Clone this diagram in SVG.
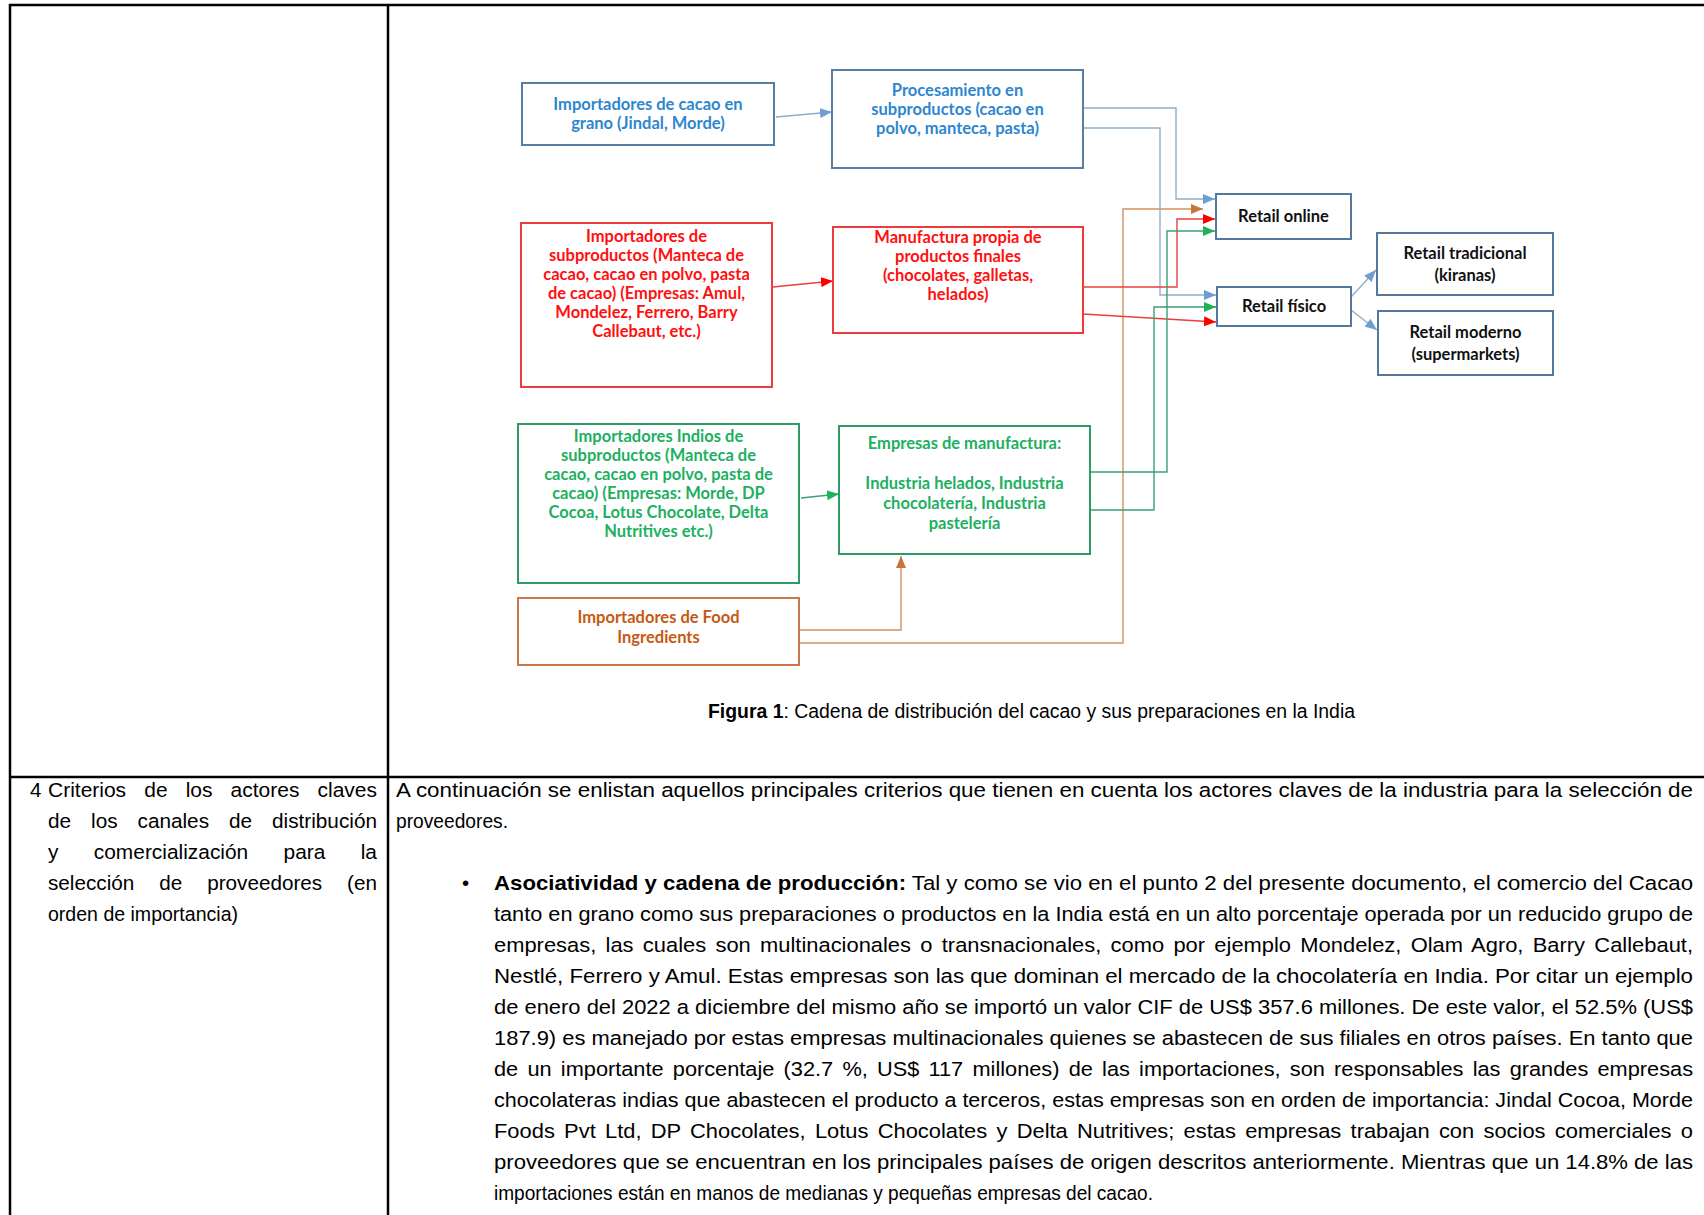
<svg xmlns="http://www.w3.org/2000/svg" width="1704" height="1215" viewBox="0 0 1704 1215">
<defs>
<style>
.tbl{stroke:#000;stroke-width:2.5;fill:none}
.body{font-family:"Liberation Sans",Arial,sans-serif;font-size:20.5px;fill:#000}
.cap{font-family:"Liberation Sans",Arial,sans-serif;font-size:20px;fill:#000}
.box{fill:#fff;stroke-width:2}
.lbl{font-family:Lato,"Open Sans",sans-serif;font-weight:700;font-size:16.5px;text-anchor:middle}
.blue .box{stroke:#5A7DA2}.blue .lbl{fill:#2E86CF}
.red .box{stroke:#EE3B3B}.red .lbl{fill:#FF1010}
.green .box{stroke:#2F9A66}.green .lbl{fill:#1DB060}
.orange .box{stroke:#C97A4A}.orange .lbl{fill:#C55A11}
.retail .box{stroke:#55799E}.retail .lbl{fill:#111}
.cn{fill:none;stroke-width:1.4}
.cb{stroke:#8FAECB;marker-end:url(#aB)}
.cr{stroke:#E8403C;marker-end:url(#aR)}
.cg{stroke:#3B9E76;marker-end:url(#aG)}
.co{stroke:#D4905E;marker-end:url(#aO)}
</style>
<marker id="aB" markerUnits="userSpaceOnUse" markerWidth="12" markerHeight="10" refX="12" refY="5" orient="auto" viewBox="0 0 12 10"><path d="M0,0 L12,5 L0,10 z" fill="#6F9FD2"/></marker>
<marker id="aR" markerUnits="userSpaceOnUse" markerWidth="12" markerHeight="10" refX="12" refY="5" orient="auto" viewBox="0 0 12 10"><path d="M0,0 L12,5 L0,10 z" fill="#FF0000"/></marker>
<marker id="aG" markerUnits="userSpaceOnUse" markerWidth="12" markerHeight="10" refX="12" refY="5" orient="auto" viewBox="0 0 12 10"><path d="M0,0 L12,5 L0,10 z" fill="#1DB35A"/></marker>
<marker id="aO" markerUnits="userSpaceOnUse" markerWidth="12" markerHeight="10" refX="12" refY="5" orient="auto" viewBox="0 0 12 10"><path d="M0,0 L12,5 L0,10 z" fill="#C8743A"/></marker>
</defs>
<rect width="1704" height="1215" fill="#fff"/>

<g id="table">
<path class="tbl" d="M9,5 H1704 M10,4 V1215 M388,4 V1215 M10,777 H1704"/>
</g>

<g id="connectors">
<path class="cn cb" d="M776,117 L832,112"/>
<path class="cn cr" d="M773,287 L833,281"/>
<path class="cn cg" d="M801,498 L839,494"/>
<path class="cn co" d="M799,630 H901 V556"/>
<path class="cn co" d="M799,643 H1123 V209 H1203"/>
<path class="cn cb" d="M1083,108 H1176 V199 H1215"/>
<path class="cn cb" d="M1083,128 H1160 V295 H1216"/>
<path class="cn cr" d="M1083,287 H1177 V219 H1215"/>
<path class="cn cr" d="M1083,314 L1216,322"/>
<path class="cn cg" d="M1090,472 H1167 V231 H1215"/>
<path class="cn cg" d="M1090,510 H1154 V307 H1216"/>
<path class="cn cb" d="M1351,297 L1376,270"/>
<path class="cn cb" d="M1351,310 L1377,330"/>
</g>

<g id="n-import-grano" class="blue">
<rect class="box" x="522" y="83" width="252" height="62"/>
<text class="lbl" x="648" y="110">Importadores de cacao en</text>
<text class="lbl" x="648" y="129">grano (Jindal, Morde)</text>
</g>
<g id="n-procesamiento" class="blue">
<rect class="box" x="832" y="70" width="251" height="98"/>
<text class="lbl" x="957.5" y="96">Procesamiento en</text>
<text class="lbl" x="957.5" y="115">subproductos (cacao en</text>
<text class="lbl" x="957.5" y="134">polvo, manteca, pasta)</text>
</g>
<g id="n-import-sub" class="red">
<rect class="box" x="521" y="223" width="251" height="164"/>
<text class="lbl" x="646.5" y="242">Importadores de</text>
<text class="lbl" x="646.5" y="261">subproductos (Manteca de</text>
<text class="lbl" x="646.5" y="280">cacao, cacao en polvo, pasta</text>
<text class="lbl" x="646.5" y="299">de cacao) (Empresas: Amul,</text>
<text class="lbl" x="646.5" y="318">Mondelez, Ferrero, Barry</text>
<text class="lbl" x="646.5" y="337">Callebaut, etc.)</text>
</g>
<g id="n-manufactura-propia" class="red">
<rect class="box" x="833" y="227" width="250" height="106"/>
<text class="lbl" x="958" y="243">Manufactura propia de</text>
<text class="lbl" x="958" y="262">productos finales</text>
<text class="lbl" x="958" y="281">(chocolates, galletas,</text>
<text class="lbl" x="958" y="300">helados)</text>
</g>
<g id="n-import-indios" class="green">
<rect class="box" x="518" y="424" width="281" height="159"/>
<text class="lbl" x="658.5" y="442">Importadores Indios de</text>
<text class="lbl" x="658.5" y="461">subproductos (Manteca de</text>
<text class="lbl" x="658.5" y="480">cacao, cacao en polvo, pasta de</text>
<text class="lbl" x="658.5" y="499">cacao) (Empresas: Morde, DP</text>
<text class="lbl" x="658.5" y="518">Cocoa, Lotus Chocolate, Delta</text>
<text class="lbl" x="658.5" y="537">Nutritives etc.)</text>
</g>
<g id="n-empresas-manufactura" class="green">
<rect class="box" x="839" y="426" width="251" height="128"/>
<text class="lbl" x="964.5" y="449">Empresas de manufactura:</text>
<text class="lbl" x="964.5" y="489">Industria helados, Industria</text>
<text class="lbl" x="964.5" y="509">chocolatería, Industria</text>
<text class="lbl" x="964.5" y="529">pastelería</text>
</g>
<g id="n-food-ingredients" class="orange">
<rect class="box" x="518" y="598" width="281" height="67"/>
<text class="lbl" x="658.5" y="623">Importadores de Food</text>
<text class="lbl" x="658.5" y="643">Ingredients</text>
</g>
<g id="n-retail-online" class="retail">
<rect class="box" x="1216" y="194" width="135" height="45"/>
<text class="lbl" x="1283.5" y="222">Retail online</text>
</g>
<g id="n-retail-fisico" class="retail">
<rect class="box" x="1217" y="287" width="134" height="39"/>
<text class="lbl" x="1284" y="312">Retail físico</text>
</g>
<g id="n-retail-tradicional" class="retail">
<rect class="box" x="1377" y="233" width="176" height="62"/>
<text class="lbl" x="1465" y="259">Retail tradicional</text>
<text class="lbl" x="1465" y="281">(kiranas)</text>
</g>
<g id="n-retail-moderno" class="retail">
<rect class="box" x="1378" y="311" width="175" height="64"/>
<text class="lbl" x="1465.5" y="338">Retail moderno</text>
<text class="lbl" x="1465.5" y="360">(supermarkets)</text>
</g>

<g id="caption">
<text class="cap" x="708" y="718" textLength="647" lengthAdjust="spacingAndGlyphs"><tspan font-weight="bold">Figura 1</tspan>: Cadena de distribución del cacao y sus preparaciones en la India</text>
</g>

<g id="left-cell" class="body">
<text x="30" y="797">4</text>
<text x="48" y="797" word-spacing="12" textLength="329" lengthAdjust="spacingAndGlyphs">Criterios de los actores claves</text>
<text x="48" y="828" word-spacing="14" textLength="329" lengthAdjust="spacingAndGlyphs">de los canales de distribución</text>
<text x="48" y="859" word-spacing="29" textLength="329" lengthAdjust="spacingAndGlyphs">y comercialización para la</text>
<text x="48" y="890" word-spacing="19" textLength="329" lengthAdjust="spacingAndGlyphs">selección de proveedores (en</text>
<text x="48" y="921" textLength="190" lengthAdjust="spacingAndGlyphs">orden de importancia)</text>
</g>

<g id="right-cell" class="body">
<text x="396" y="797" textLength="1297" lengthAdjust="spacingAndGlyphs">A continuación se enlistan aquellos principales criterios que tienen en cuenta los actores claves de la industria para la selección de</text>
<text x="396" y="828" textLength="112" lengthAdjust="spacingAndGlyphs">proveedores.</text>
<text x="462" y="890">•</text>
<text x="494" y="890" textLength="1199" lengthAdjust="spacingAndGlyphs"><tspan font-weight="bold">Asociatividad y cadena de producción:</tspan> Tal y como se vio en el punto 2 del presente documento, el comercio del Cacao</text>
<text x="494" y="921" textLength="1199" lengthAdjust="spacingAndGlyphs">tanto en grano como sus preparaciones o productos en la India está en un alto porcentaje operada por un reducido grupo de</text>
<text x="494" y="952" word-spacing="3" textLength="1199" lengthAdjust="spacingAndGlyphs">empresas, las cuales son multinacionales o transnacionales, como por ejemplo Mondelez, Olam Agro, Barry Callebaut,</text>
<text x="494" y="983" textLength="1199" lengthAdjust="spacingAndGlyphs">Nestlé, Ferrero y Amul. Estas empresas son las que dominan el mercado de la chocolatería en India. Por citar un ejemplo</text>
<text x="494" y="1014" textLength="1199" lengthAdjust="spacingAndGlyphs">de enero del 2022 a diciembre del mismo año se importó un valor CIF de US$ 357.6 millones. De este valor, el 52.5% (US$</text>
<text x="494" y="1045" textLength="1199" lengthAdjust="spacingAndGlyphs">187.9) es manejado por estas empresas multinacionales quienes se abastecen de sus filiales en otros países. En tanto que</text>
<text x="494" y="1076" word-spacing="3" textLength="1199" lengthAdjust="spacingAndGlyphs">de un importante porcentaje (32.7 %, US$ 117 millones) de las importaciones, son responsables las grandes empresas</text>
<text x="494" y="1107" textLength="1199" lengthAdjust="spacingAndGlyphs">chocolateras indias que abastecen el producto a terceros, estas empresas son en orden de importancia: Jindal Cocoa, Morde</text>
<text x="494" y="1138" word-spacing="3" textLength="1199" lengthAdjust="spacingAndGlyphs">Foods Pvt Ltd, DP Chocolates, Lotus Chocolates y Delta Nutritives; estas empresas trabajan con socios comerciales o</text>
<text x="494" y="1169" textLength="1199" lengthAdjust="spacingAndGlyphs">proveedores que se encuentran en los principales países de origen descritos anteriormente. Mientras que un 14.8% de las</text>
<text x="494" y="1200" textLength="659" lengthAdjust="spacingAndGlyphs">importaciones están en manos de medianas y pequeñas empresas del cacao.</text>
</g>
</svg>
